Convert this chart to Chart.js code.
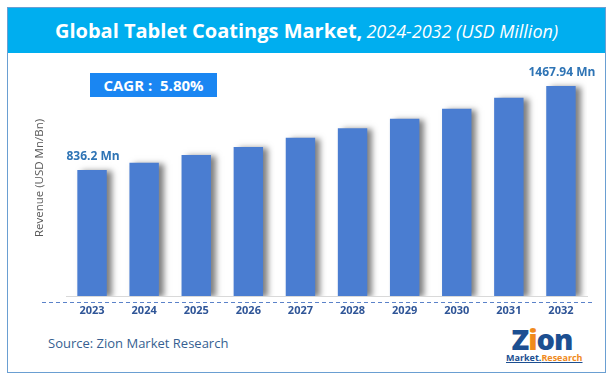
<!DOCTYPE html>
<html>
<head>
<meta charset="utf-8">
<script src="https://cdn.jsdelivr.net/npm/chart.js@4/dist/chart.umd.min.js"></script>
<style>
  html, body { margin:0; padding:0; background:#fff; }
  body { width:613px; height:381px; position:relative; overflow:hidden; font-family:"Open Sans", sans-serif; }
  #frame { position:absolute; left:7px; top:7px; width:597px; height:364px; border:1px solid #6a9fd2; }
  #titlebar { position:absolute; left:8px; top:8px; width:597px; height:45px; background:#00aeef;
              color:#fff; text-align:center; line-height:45px; white-space:nowrap; }
  #titlebar b { font-weight:700; font-size:20px; }
  #titlebar i { font-weight:400; font-size:18px; font-style:italic; }
  #cagr { position:absolute; left:90px; top:73px; width:127px; height:24px; background:#1a86f2;
          color:#fff; font-weight:700; font-size:15px; line-height:24px; text-align:center; white-space:pre; }
  #source { position:absolute; left:48px; top:333px; font-size:13px; color:#365f91; line-height:20px; }
  #logo { position:absolute; left:506px; top:325px; width:72px; text-align:center; }
  #logo .big { font-weight:800; font-size:29px; line-height:28px; color:#1c4f91; letter-spacing:-1px; font-family:"Open Sans", sans-serif; }
  #logo .big span { color:#f08a1c; }
  #logo .small { font-weight:700; font-size:9px; line-height:9px; text-decoration:underline; color:#1c4f91; white-space:nowrap; }
  #logo .small span { color:#f08a1c; }
  canvas { position:absolute; left:0; top:0; }
</style>
</head>
<body>
<div id="frame"></div>
<div id="titlebar"><b>Global Tablet Coatings Market,</b> <i>2024-2032 (USD Million)</i></div>
<div id="cagr">CAGR :  5.80%</div>
<div id="source">Source: Zion Market Research</div>
<div id="logo"><div class="big">Z<span>i</span>on</div><div class="small">Market.<span>Research</span></div></div>
<canvas id="c" width="613" height="381"></canvas>
<script>
const categories = ["2023","2024","2025","2026","2027","2028","2029","2030","2031","2032"];
const revenue = [836.2, 891, 949, 1009, 1079, 1150, 1222, 1297, 1380, 1467.94];
const valueLabels = ["836.2 Mn", "", "", "", "", "", "", "", "", "1467.94 Mn"];
const yTitle = "Revenue (USD Mn/Bn)";
const Y_MIN = -111;
const Y_MAX = 1664;

const shadowPlugin = {
  id: 'barShadow',
  beforeDatasetsDraw(chart) {
    const ctx = chart.ctx;
    ctx.save();
    ctx.shadowColor = 'rgba(0,0,0,0.5)';
    ctx.shadowOffsetX = 5;
    ctx.shadowOffsetY = 1;
    ctx.shadowBlur = 6;
  },
  afterDatasetsDraw(chart) {
    const ctx = chart.ctx;
    ctx.restore();
    const meta = chart.getDatasetMeta(0);
    ctx.save();
    ctx.font = 'bold 12px "Open Sans", sans-serif';
    ctx.fillStyle = '#2e74b5';
    ctx.textAlign = 'center';
    ctx.textBaseline = 'middle';
    meta.data.forEach((bar, i) => {
      if (valueLabels[i]) ctx.fillText(valueLabels[i], bar.x + 1, bar.y - 13);
    });
    const b = chart.chartArea.bottom;
    ctx.strokeStyle = '#5b82c9';
    ctx.lineWidth = 1;
    ctx.setLineDash([4, 3]);
    ctx.beginPath();
    ctx.moveTo(42, b + 6.5);
    ctx.lineTo(592, b + 6.5);
    ctx.stroke();
    ctx.restore();
  }
};

new Chart(document.getElementById('c'), {
  type: 'bar',
  data: {
    labels: categories,
    datasets: [{
      data: revenue,
      base: Y_MIN,
      backgroundColor: '#4a7dd1',
      borderWidth: 0,
      barPercentage: 0.565,
      categoryPercentage: 1.0
    }]
  },
  options: {
    responsive: false,
    animation: false,
    events: [],
    layout: { padding: { left: 30, right: 26, top: 60, bottom: 65 } },
    plugins: { legend: { display: false }, tooltip: { enabled: false } },
    scales: {
      x: {
        grid: { display: false, drawTicks: false },
        border: { display: true, color: '#d9d9d9', width: 1 },
        ticks: { color: '#2f5597', font: { family: 'Open Sans', weight: 'bold', size: 11 }, padding: 8 },
        afterFit(scale) { scale.height = 20; }
      },
      y: {
        min: Y_MIN, max: Y_MAX,
        grid: { display: false, drawTicks: false },
        border: { display: false },
        ticks: { display: false },
        title: { display: true, text: yTitle, color: '#595959', font: { family: 'Open Sans', size: 11.5 }, padding: { top: 3, bottom: 4 } },
        afterFit(scale) { scale.width = 36; }
      }
    }
  },
  plugins: [shadowPlugin]
});
</script>
</body>
</html>
